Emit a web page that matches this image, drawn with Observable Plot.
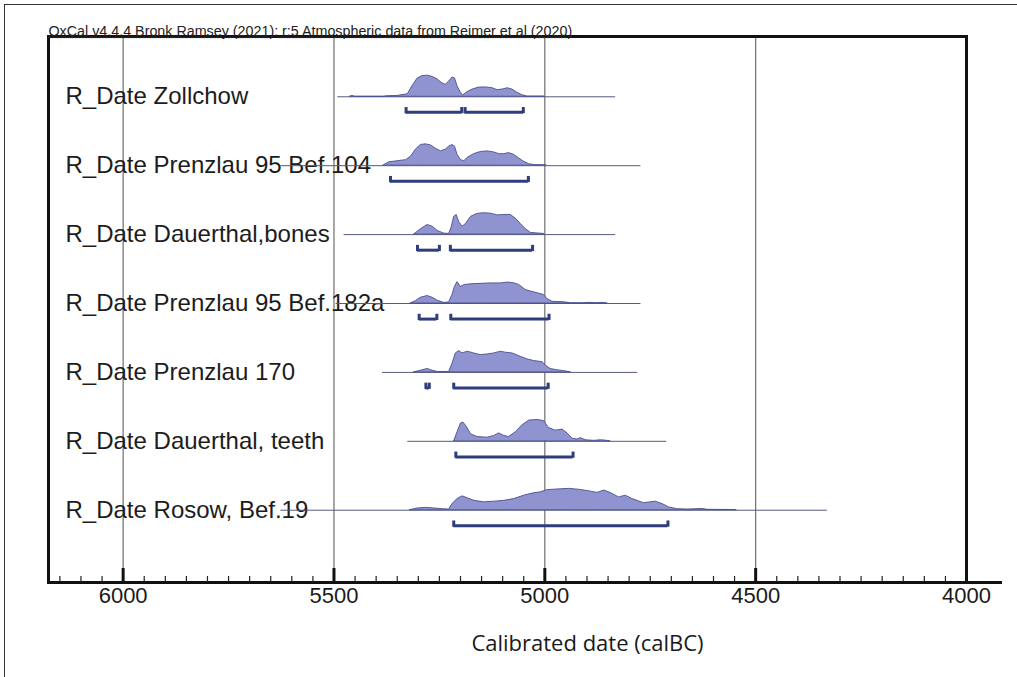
<!DOCTYPE html>
<html>
<head>
<meta charset="utf-8">
<script src="https://cdn.jsdelivr.net/npm/d3@7"></script>
<script src="https://cdn.jsdelivr.net/npm/@observablehq/plot@0.6"></script>
<style>
  html, body { margin: 0; padding: 0; background: #fff; overflow: hidden; }
  #wrap { position: relative; width: 1017px; height: 677px; }
  #border { position: absolute; left: 4px; top: 4px; width: 1020px; height: 680px;
            border-top: 1.5px solid #333; border-left: 1.5px solid #333; pointer-events: none; }
  #chart { position: absolute; left: 0; top: 0; }
</style>
</head>
<body>
<div id="wrap"><div id="chart"></div><div id="border"></div></div>
<script>
// ---------- data ----------
const titleText = "OxCal v4.4.4 Bronk Ramsey (2021); r:5 Atmospheric data from Reimer et al (2020)";
const xLabel = "Calibrated date (calBC)";
const labels = [
  "R_Date Zollchow",
  "R_Date Prenzlau 95 Bef.104",
  "R_Date Dauerthal,bones",
  "R_Date Prenzlau 95 Bef.182a",
  "R_Date Prenzlau 170",
  "R_Date Dauerthal, teeth",
  "R_Date Rosow, Bef.19"
];
const majorTicks = [6000, 5500, 5000, 4500, 4000];
const minorTicks = d3.range(4000, 6151, 50);

// probability distributions: [calBC year, relative probability]
const zollchow = [[5462,0],[5456,0.04],[5450,0],[5380,0],[5377,0.02],[5349,0.04],[5325,0.12],[5314,0.49],[5302,0.85],[5290,0.97],[5278,0.99],[5266,0.93],[5254,0.81],[5243,0.63],[5235,0.56],[5227,0.71],[5219,0.90],[5213,0.86],[5207,0.49],[5199,0.19],[5193,0.07],[5183,0.22],[5171,0.34],[5156,0.43],[5140,0.44],[5124,0.40],[5112,0.31],[5100,0.34],[5088,0.40],[5077,0.34],[5065,0.19],[5053,0.07],[5041,0.01],[5002,0.01],[5000,0]];
const prenzlau104 = [[5383,0],[5369,0.16],[5349,0.21],[5329,0.26],[5317,0.43],[5306,0.75],[5294,0.97],[5282,1.0],[5270,0.95],[5258,0.79],[5246,0.67],[5235,0.75],[5227,0.89],[5219,0.97],[5213,0.89],[5207,0.51],[5199,0.26],[5191,0.21],[5182,0.38],[5168,0.54],[5152,0.64],[5136,0.67],[5120,0.62],[5108,0.54],[5096,0.54],[5085,0.59],[5073,0.51],[5061,0.34],[5049,0.18],[5037,0.07],[5025,0.03],[4998,0.02],[4995,0]];
const dauerthalBones = [[5310,0],[5294,0.25],[5278,0.45],[5266,0.37],[5254,0.17],[5239,0.05],[5227,0.03],[5221,0.33],[5215,0.83],[5209,0.92],[5203,0.58],[5195,0.37],[5187,0.5],[5175,0.83],[5160,0.97],[5144,1.0],[5128,0.98],[5112,0.9],[5096,0.92],[5081,0.92],[5069,0.75],[5057,0.5],[5045,0.25],[5033,0.08],[5002,0.03],[5000,0]];
const prenzlau182a = [[5318,0],[5306,0.11],[5294,0.27],[5278,0.35],[5266,0.27],[5254,0.13],[5239,0.03],[5227,0.05],[5219,0.40],[5213,0.79],[5207,1.0],[5199,0.78],[5191,0.86],[5175,0.90],[5152,0.92],[5128,0.94],[5104,0.94],[5088,0.98],[5073,0.95],[5061,0.87],[5045,0.63],[5033,0.56],[5017,0.48],[5002,0.40],[4994,0.21],[4982,0.08],[4954,0.06],[4938,0.01],[4907,0.01],[4895,0.03],[4875,0.01],[4867,0.03],[4851,0]];
const prenzlau170 = [[5310,0],[5294,0.08],[5278,0.16],[5266,0.08],[5254,0.02],[5227,0.02],[5219,0.4],[5211,0.89],[5203,1.0],[5195,0.89],[5183,0.97],[5168,0.89],[5152,0.81],[5136,0.84],[5120,0.89],[5104,0.97],[5092,0.92],[5077,0.89],[5057,0.73],[5041,0.61],[5025,0.53],[5005,0.48],[4998,0.32],[4986,0.16],[4970,0.1],[4954,0.06],[4938,0]];
const dauerthalTeeth = [[5215,0],[5207,0.42],[5199,0.83],[5193,0.88],[5185,0.67],[5175,0.33],[5160,0.2],[5136,0.17],[5120,0.25],[5108,0.37],[5096,0.25],[5085,0.2],[5069,0.42],[5053,0.75],[5037,0.97],[5017,1.0],[5002,0.95],[4990,0.62],[4974,0.5],[4958,0.55],[4946,0.37],[4934,0.12],[4922,0.08],[4915,0.15],[4903,0.05],[4883,0.02],[4867,0.05],[4855,0.03],[4844,0]];
const rosow = [[5320,0],[5302,0.08],[5282,0.11],[5262,0.08],[5242,0.05],[5227,0.03],[5219,0.29],[5207,0.52],[5195,0.65],[5183,0.56],[5167,0.44],[5144,0.37],[5120,0.4],[5096,0.44],[5073,0.52],[5049,0.68],[5029,0.78],[5009,0.84],[4994,0.94],[4970,0.97],[4942,1.0],[4915,0.95],[4891,0.87],[4875,0.81],[4859,0.92],[4844,0.81],[4824,0.6],[4808,0.68],[4792,0.52],[4765,0.33],[4737,0.4],[4721,0.29],[4705,0.13],[4686,0.05],[4662,0.03],[4626,0.06],[4614,0.02],[4551,0.01],[4545,0]];

// 95.4% ranges (calBC)
const ranges = [
  [[5329,5197],[5189,5051]],
  [[5366,5039]],
  [[5302,5250],[5224,5029]],
  [[5298,5256],[5223,4990]],
  [[5282,5274],[5216,4992]],
  [[5211,4933]],
  [[5216,4708]]
];
// extent of the thin base line under each distribution (calBC)
const lineStart = [5491, 5626, 5476, 5495, 5385, 5325, 5626];
const lineEnd   = [4832, 4772, 4832, 4772, 4780, 4711, 4330];

// ---------- build tables ----------
const densities = [zollchow, prenzlau104, dauerthalBones, prenzlau182a, prenzlau170, dauerthalTeeth, rosow];
const areaData = densities.flatMap((pts, i) => pts.map(([year, p]) => ({row: i, name: labels[i], year, p})));
const rangeData = ranges.flatMap((rs, i) => rs.map(([a, b]) => ({row: i, a, b})));
const rangeEnds = rangeData.flatMap(d => [{row: d.row, x: d.a}, {row: d.row, x: d.b}]);
const baseLines = labels.map((name, i) => ({row: i, a: lineStart[i], b: lineEnd[i]}));

const peak = 0.31;      // height of a distribution peak, in row units
const bracketOff = 0.226;
const tickLen = 0.07;

const FILL = "#8f93cf", OUTLINE = "#4a4f8c", NAVY = "#2f3d7c";

const chart = Plot.plot({
  width: 1017,
  height: 677,
  marginLeft: 48,
  marginRight: 51,
  marginTop: 36,
  marginBottom: 95,
  style: {fontFamily: "'Liberation Sans', Arial, sans-serif", background: "#fff", color: "#1a1a1a"},
  x: {domain: [6177, 4000], axis: null},
  y: {domain: [-0.875, 7.049], reverse: true, axis: null},
  marks: [
    // vertical grid lines
    Plot.ruleX(majorTicks.slice(0, 4), {stroke: "#6e6e6e", strokeWidth: 1.2}),
    // row labels
    Plot.text(labels, {y: (d, i) => i, text: d => d, frameAnchor: "left", dx: 17,
                       textAnchor: "start", fontSize: 24, fill: "#1c1c1c"}),
    // base lines
    Plot.ruleY(baseLines, {y: "row", x1: "a", x2: "b", stroke: "#555a7e", strokeWidth: 1}),
    // distributions
    Plot.areaY(areaData, {x: "year", y1: "row", y2: d => d.row - d.p * peak, z: "name",
                          fill: FILL, stroke: OUTLINE, strokeWidth: 0.9}),
    // range brackets
    Plot.ruleY(rangeData, {y: d => d.row + bracketOff, x1: "a", x2: "b", stroke: NAVY, strokeWidth: 3}),
    Plot.ruleX(rangeEnds, {x: "x", y1: d => d.row + bracketOff + 0.02, y2: d => d.row + bracketOff - tickLen,
                           stroke: NAVY, strokeWidth: 3}),
    // box
    Plot.frame({stroke: "#111", strokeWidth: 3}),
    Plot.frame({anchor: "bottom", stroke: "#111", strokeWidth: 3, insetRight: -34}),
    // ticks
    Plot.ruleX(minorTicks, {stroke: "#222", strokeWidth: 1.2, insetTop: 540}),
    Plot.ruleX(majorTicks, {stroke: "#111", strokeWidth: 3, insetTop: 532}),
    Plot.axisX({ticks: majorTicks, tickSize: 0, tickPadding: 5, tickFormat: "d",
                fontSize: 22, label: null, fill: "#1a1a1a"}),
    // title & axis label
    Plot.text([titleText], {frameAnchor: "top-left", dy: -11, textAnchor: "start",
                            fontSize: 14.3, fill: "#222", className: "oxcal-title"}),
    Plot.text([xLabel], {frameAnchor: "bottom", dx: 80, dy: 68, fontSize: 22,
                         fontFamily: "'Open Sans', sans-serif", fill: "#1a1a1a"})
  ]
});
d3.select(chart).selectAll(".oxcal-title text").style("text-decoration", "underline");
document.getElementById("chart").appendChild(chart);
</script>
</body>
</html>
